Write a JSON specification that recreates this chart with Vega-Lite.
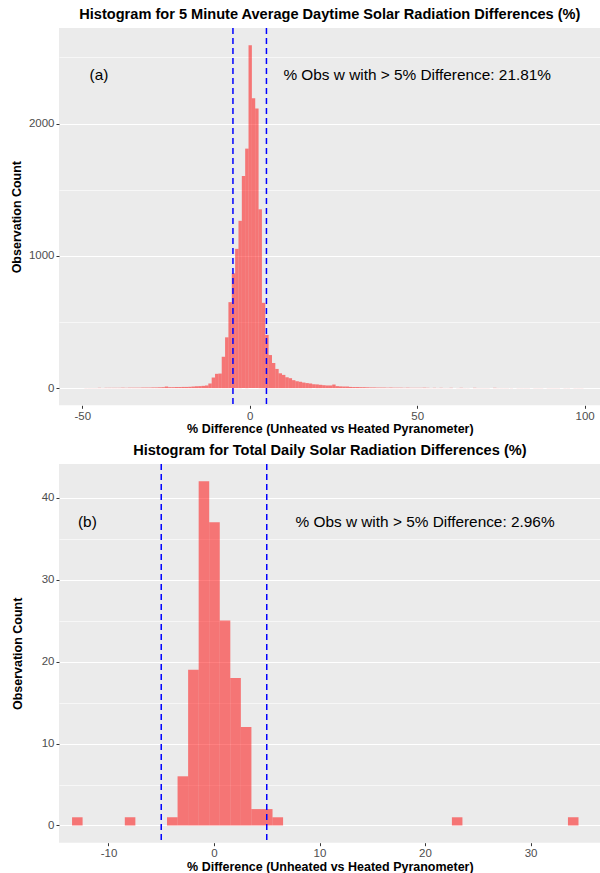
{
  "$schema": "https://vega.github.io/schema/vega-lite/v6.json",
  "padding": {"left": 10, "top": 6, "right": 0, "bottom": 0},
  "spacing": 6,
  "config": {
    "font": "Liberation Sans",
    "view": {"fill": "#EBEBEB", "stroke": null},
    "axis": {"domain": false, "gridColor": "#FFFFFF", "tickColor": "#333333", "tickSize": 3, "tickWidth": 1, "labelColor": "#4D4D4D", "labelFont": "Liberation Sans", "labelFontSize": 11.5, "labelPadding": 2, "titleFont": "Liberation Sans", "titleFontSize": 12.5, "titleFontWeight": "bold", "titleColor": "#000000"},
    "title": {"font": "Liberation Sans", "fontSize": 14.6, "fontWeight": "bold", "color": "#000000", "anchor": "middle", "offset": 6}
  },
  "datasets": {
    "five": [
      {"lo": -49.5, "hi": -48.5, "n": 1}, {"lo": -48.5, "hi": -47.5, "n": 1}, {"lo": -47.5, "hi": -46.5, "n": 1}, {"lo": -46.5, "hi": -45.5, "n": 1},
      {"lo": -45.5, "hi": -44.5, "n": 2}, {"lo": -44.5, "hi": -43.5, "n": 1}, {"lo": -43.5, "hi": -42.5, "n": 2}, {"lo": -42.5, "hi": -41.5, "n": 2},
      {"lo": -41.5, "hi": -40.5, "n": 2}, {"lo": -40.5, "hi": -39.5, "n": 2}, {"lo": -39.5, "hi": -38.5, "n": 2}, {"lo": -38.5, "hi": -37.5, "n": 3},
      {"lo": -37.5, "hi": -36.5, "n": 2}, {"lo": -36.5, "hi": -35.5, "n": 3}, {"lo": -35.5, "hi": -34.5, "n": 3}, {"lo": -34.5, "hi": -33.5, "n": 3},
      {"lo": -33.5, "hi": -32.5, "n": 3}, {"lo": -32.5, "hi": -31.5, "n": 4}, {"lo": -31.5, "hi": -30.5, "n": 4}, {"lo": -30.5, "hi": -29.5, "n": 4},
      {"lo": -29.5, "hi": -28.5, "n": 5}, {"lo": -28.5, "hi": -27.5, "n": 5}, {"lo": -27.5, "hi": -26.5, "n": 6}, {"lo": -26.5, "hi": -25.5, "n": 7},
      {"lo": -25.5, "hi": -24.5, "n": 12}, {"lo": -24.5, "hi": -23.5, "n": 7}, {"lo": -23.5, "hi": -22.5, "n": 7}, {"lo": -22.5, "hi": -21.5, "n": 8},
      {"lo": -21.5, "hi": -20.5, "n": 8}, {"lo": -20.5, "hi": -19.5, "n": 9}, {"lo": -19.5, "hi": -18.5, "n": 9}, {"lo": -18.5, "hi": -17.5, "n": 10},
      {"lo": -17.5, "hi": -16.5, "n": 12}, {"lo": -16.5, "hi": -15.5, "n": 14}, {"lo": -15.5, "hi": -14.5, "n": 15}, {"lo": -14.5, "hi": -13.5, "n": 17},
      {"lo": -13.5, "hi": -12.5, "n": 20}, {"lo": -12.5, "hi": -11.5, "n": 35}, {"lo": -11.5, "hi": -10.5, "n": 80}, {"lo": -10.5, "hi": -9.5, "n": 108},
      {"lo": -9.5, "hi": -8.5, "n": 110}, {"lo": -8.5, "hi": -7.5, "n": 237}, {"lo": -7.5, "hi": -6.5, "n": 384}, {"lo": -6.5, "hi": -5.5, "n": 650},
      {"lo": -5.5, "hi": -4.5, "n": 868}, {"lo": -4.5, "hi": -3.5, "n": 1053}, {"lo": -3.5, "hi": -2.5, "n": 1265}, {"lo": -2.5, "hi": -1.5, "n": 1604},
      {"lo": -1.5, "hi": -0.5, "n": 1811}, {"lo": -0.5, "hi": 0.5, "n": 2593}, {"lo": 0.5, "hi": 1.5, "n": 2192}, {"lo": 1.5, "hi": 2.5, "n": 2114},
      {"lo": 2.5, "hi": 3.5, "n": 1352}, {"lo": 3.5, "hi": 4.5, "n": 645}, {"lo": 4.5, "hi": 5.5, "n": 402}, {"lo": 5.5, "hi": 6.5, "n": 250},
      {"lo": 6.5, "hi": 7.5, "n": 190}, {"lo": 7.5, "hi": 8.5, "n": 145}, {"lo": 8.5, "hi": 9.5, "n": 112}, {"lo": 9.5, "hi": 10.5, "n": 100},
      {"lo": 10.5, "hi": 11.5, "n": 82}, {"lo": 11.5, "hi": 12.5, "n": 75}, {"lo": 12.5, "hi": 13.5, "n": 60}, {"lo": 13.5, "hi": 14.5, "n": 52},
      {"lo": 14.5, "hi": 15.5, "n": 48}, {"lo": 15.5, "hi": 16.5, "n": 42}, {"lo": 16.5, "hi": 17.5, "n": 38}, {"lo": 17.5, "hi": 18.5, "n": 35},
      {"lo": 18.5, "hi": 19.5, "n": 30}, {"lo": 19.5, "hi": 20.5, "n": 28}, {"lo": 20.5, "hi": 21.5, "n": 25}, {"lo": 21.5, "hi": 22.5, "n": 22},
      {"lo": 22.5, "hi": 23.5, "n": 20}, {"lo": 23.5, "hi": 24.5, "n": 20}, {"lo": 24.5, "hi": 25.5, "n": 27}, {"lo": 25.5, "hi": 26.5, "n": 15},
      {"lo": 26.5, "hi": 27.5, "n": 13}, {"lo": 27.5, "hi": 28.5, "n": 12}, {"lo": 28.5, "hi": 29.5, "n": 12}, {"lo": 29.5, "hi": 30.5, "n": 9},
      {"lo": 30.5, "hi": 31.5, "n": 8}, {"lo": 31.5, "hi": 32.5, "n": 8}, {"lo": 32.5, "hi": 33.5, "n": 7}, {"lo": 33.5, "hi": 34.5, "n": 7},
      {"lo": 34.5, "hi": 35.5, "n": 6}, {"lo": 35.5, "hi": 36.5, "n": 5}, {"lo": 36.5, "hi": 37.5, "n": 5}, {"lo": 37.5, "hi": 38.5, "n": 4},
      {"lo": 38.5, "hi": 39.5, "n": 4}, {"lo": 39.5, "hi": 40.5, "n": 4}, {"lo": 40.5, "hi": 41.5, "n": 3}, {"lo": 41.5, "hi": 42.5, "n": 4},
      {"lo": 42.5, "hi": 43.5, "n": 3}, {"lo": 43.5, "hi": 44.5, "n": 3}, {"lo": 44.5, "hi": 45.5, "n": 3}, {"lo": 45.5, "hi": 46.5, "n": 2},
      {"lo": 46.5, "hi": 47.5, "n": 3}, {"lo": 47.5, "hi": 48.5, "n": 2}, {"lo": 48.5, "hi": 49.5, "n": 2}, {"lo": 49.5, "hi": 50.5, "n": 2},
      {"lo": 50.5, "hi": 51.5, "n": 2}, {"lo": 51.5, "hi": 52.5, "n": 3}, {"lo": 52.5, "hi": 53.5, "n": 2}, {"lo": 53.5, "hi": 54.5, "n": 1},
      {"lo": 54.5, "hi": 55.5, "n": 2}, {"lo": 55.5, "hi": 56.5, "n": 1}, {"lo": 56.5, "hi": 57.5, "n": 2}, {"lo": 57.5, "hi": 58.5, "n": 1},
      {"lo": 58.5, "hi": 59.5, "n": 1}, {"lo": 59.5, "hi": 60.5, "n": 2}, {"lo": 61.5, "hi": 62.5, "n": 1}, {"lo": 62.5, "hi": 63.5, "n": 2},
      {"lo": 63.5, "hi": 64.5, "n": 1}, {"lo": 64.5, "hi": 65.5, "n": 1}, {"lo": 66.5, "hi": 67.5, "n": 2}, {"lo": 67.5, "hi": 68.5, "n": 1},
      {"lo": 68.5, "hi": 69.5, "n": 1}, {"lo": 69.5, "hi": 70.5, "n": 1}, {"lo": 70.5, "hi": 71.5, "n": 1}, {"lo": 72.5, "hi": 73.5, "n": 2},
      {"lo": 73.5, "hi": 74.5, "n": 1}, {"lo": 74.5, "hi": 75.5, "n": 1}, {"lo": 75.5, "hi": 76.5, "n": 1}, {"lo": 76.5, "hi": 77.5, "n": 1},
      {"lo": 77.5, "hi": 78.5, "n": 1}, {"lo": 79.5, "hi": 80.5, "n": 1}, {"lo": 80.5, "hi": 81.5, "n": 1}, {"lo": 81.5, "hi": 82.5, "n": 1},
      {"lo": 82.5, "hi": 83.5, "n": 1}, {"lo": 84.5, "hi": 85.5, "n": 1}, {"lo": 85.5, "hi": 86.5, "n": 1}, {"lo": 86.5, "hi": 87.5, "n": 1},
      {"lo": 88.5, "hi": 89.5, "n": 1}, {"lo": 89.5, "hi": 90.5, "n": 1}, {"lo": 90.5, "hi": 91.5, "n": 1}, {"lo": 91.5, "hi": 92.5, "n": 1},
      {"lo": 93.5, "hi": 94.5, "n": 1}, {"lo": 94.5, "hi": 95.5, "n": 1}, {"lo": 96.5, "hi": 97.5, "n": 1}, {"lo": 97.5, "hi": 98.5, "n": 1},
      {"lo": 98.5, "hi": 99.5, "n": 1}
    ],
    "daily": [
      {"lo": -13.5, "hi": -12.5, "n": 1}, {"lo": -8.5, "hi": -7.5, "n": 1}, {"lo": -4.5, "hi": -3.5, "n": 1},
      {"lo": -3.5, "hi": -2.5, "n": 6}, {"lo": -2.5, "hi": -1.5, "n": 19}, {"lo": -1.5, "hi": -0.5, "n": 42},
      {"lo": -0.5, "hi": 0.5, "n": 37}, {"lo": 0.5, "hi": 1.5, "n": 25}, {"lo": 1.5, "hi": 2.5, "n": 18},
      {"lo": 2.5, "hi": 3.5, "n": 12}, {"lo": 3.5, "hi": 4.5, "n": 2}, {"lo": 4.5, "hi": 5.5, "n": 2},
      {"lo": 5.5, "hi": 6.5, "n": 1}, {"lo": 22.5, "hi": 23.5, "n": 1}, {"lo": 33.5, "hi": 34.5, "n": 1}
    ],
    "limits": [{"v": -5}, {"v": 5}]
  },
  "vconcat": [
    {
      "title": {"text": "Histogram for 5 Minute Average Daytime Solar Radiation Differences (%)"},
      "width": 541.7,
      "height": 377.3,
      "layer": [
        {
          "data": {"name": "five"},
          "mark": {"type": "bar", "color": "#FF0000", "opacity": 0.5, "binSpacing": 0},
          "encoding": {
            "x": {"field": "lo", "type": "quantitative", "bin": {"binned": true},
              "scale": {"domain": [-56.93, 104.78], "nice": false, "zero": false},
              "axis": {"title": "% Difference (Unheated vs Heated Pyranometer)", "values": [-50, -25, 0, 25, 50, 75, 100],
                "labelExpr": "datum.value % 50 === 0 ? '' + datum.value : ''",
                "gridWidth": {"condition": {"test": "datum.value % 50 === 0", "value": 1.2}, "value": 0.6},
                "tickOpacity": {"condition": {"test": "datum.value % 50 === 0", "value": 1}, "value": 0},
                "titlePadding": 1}},
            "x2": {"field": "hi"},
            "y": {"field": "n", "type": "quantitative",
              "scale": {"domain": [-130, 2723], "nice": false},
              "axis": {"title": "Observation Count", "values": [0, 500, 1000, 1500, 2000, 2500],
                "labelExpr": "datum.value % 1000 === 0 ? '' + datum.value : ''",
                "gridWidth": {"condition": {"test": "datum.value % 1000 === 0", "value": 1.2}, "value": 0.6},
                "tickOpacity": {"condition": {"test": "datum.value % 1000 === 0", "value": 1}, "value": 0},
                "titlePadding": 5}}
          }
        },
        {
          "data": {"name": "limits"},
          "mark": {"type": "rule", "color": "#0000FF", "strokeWidth": 1.5, "strokeDash": [6, 4]},
          "encoding": {"x": {"field": "v", "type": "quantitative"}}
        },
        {
          "data": {"values": [{"x": -45, "y": 2370, "t": "(a)"}, {"x": 50, "y": 2370, "t": "% Obs w with > 5% Difference: 21.81%"}]},
          "mark": {"type": "text", "font": "Liberation Sans", "fontSize": 15.4, "color": "#000000", "align": "center", "baseline": "middle"},
          "encoding": {"x": {"field": "x", "type": "quantitative"}, "y": {"field": "y", "type": "quantitative"}, "text": {"field": "t"}}
        }
      ]
    },
    {
      "title": {"text": "Histogram for Total Daily Solar Radiation Differences (%)"},
      "width": 541.7,
      "height": 378.7,
      "layer": [
        {
          "data": {"name": "daily"},
          "mark": {"type": "bar", "color": "#FF0000", "opacity": 0.5, "binSpacing": 0},
          "encoding": {
            "x": {"field": "lo", "type": "quantitative", "bin": {"binned": true},
              "scale": {"domain": [-14.69, 36.65], "nice": false, "zero": false},
              "axis": {"title": "% Difference (Unheated vs Heated Pyranometer)", "values": [-15, -10, -5, 0, 5, 10, 15, 20, 25, 30, 35],
                "labelExpr": "datum.value % 10 === 0 ? '' + datum.value : ''",
                "gridWidth": {"condition": {"test": "datum.value % 10 === 0", "value": 1.2}, "value": 0.6},
                "tickOpacity": {"condition": {"test": "datum.value % 10 === 0", "value": 1}, "value": 0},
                "titlePadding": 1}},
            "x2": {"field": "hi"},
            "y": {"field": "n", "type": "quantitative",
              "scale": {"domain": [-2.1, 44.1], "nice": false},
              "axis": {"title": "Observation Count", "values": [0, 5, 10, 15, 20, 25, 30, 35, 40],
                "labelExpr": "datum.value % 10 === 0 ? '' + datum.value : ''",
                "gridWidth": {"condition": {"test": "datum.value % 10 === 0", "value": 1.2}, "value": 0.6},
                "tickOpacity": {"condition": {"test": "datum.value % 10 === 0", "value": 1}, "value": 0},
                "titlePadding": 17}}
          }
        },
        {
          "data": {"name": "limits"},
          "mark": {"type": "rule", "color": "#0000FF", "strokeWidth": 1.5, "strokeDash": [6, 4]},
          "encoding": {"x": {"field": "v", "type": "quantitative"}}
        },
        {
          "data": {"values": [{"x": -12, "y": 37, "t": "(b)"}, {"x": 20, "y": 37, "t": "% Obs w with > 5% Difference: 2.96%"}]},
          "mark": {"type": "text", "font": "Liberation Sans", "fontSize": 15.4, "color": "#000000", "align": "center", "baseline": "middle"},
          "encoding": {"x": {"field": "x", "type": "quantitative"}, "y": {"field": "y", "type": "quantitative"}, "text": {"field": "t"}}
        }
      ]
    }
  ]
}
